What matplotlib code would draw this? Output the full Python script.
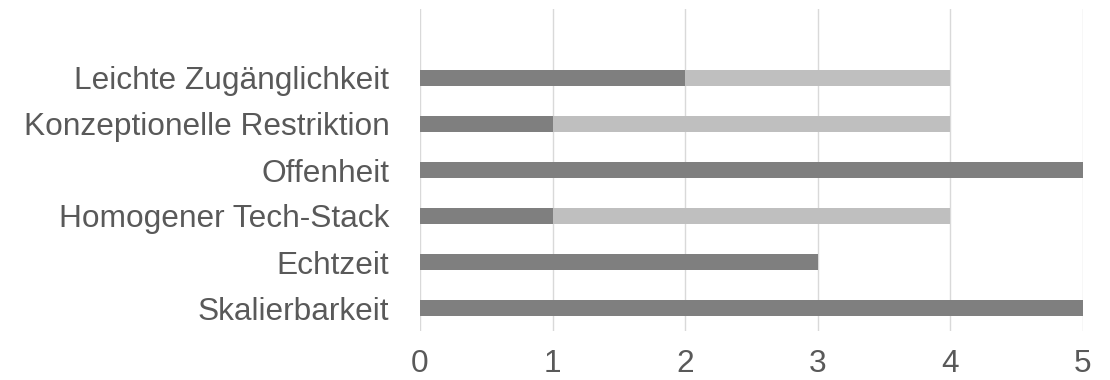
import matplotlib
matplotlib.use("Agg")
import matplotlib.pyplot as plt

# categories bottom -> top (an empty slot sits above the last one)
categories = ["Skalierbarkeit", "Echtzeit", "Homogener Tech-Stack",
              "Offenheit", "Konzeptionelle Restriktion", "Leichte Zugänglichkeit"]
series_a = [5, 3, 1, 5, 1, 2]
series_b = [0, 0, 3, 0, 3, 2]
xticks = [0, 1, 2, 3, 4, 5]

plt.rcParams['font.family'] = ['Liberation Sans', 'DejaVu Sans']

fig = plt.figure(figsize=(11.1, 3.8), dpi=100)
ax = fig.add_axes([420 / 1110, 1 - 331 / 380, 663 / 1110, 322 / 380])

pos = list(range(len(categories)))
h = 16 / 46
ax.barh(pos, series_a, height=h, color='#7f7f7f', zorder=3)
ax.barh(pos, series_b, left=series_a, height=h, color='#bfbfbf', zorder=3)

ax.set_xlim(0, 5)
ax.set_ylim(-0.5, len(categories) + 0.5)
ax.set_xticks(xticks)
ax.set_yticks(pos)
ax.set_yticklabels(categories)
ax.tick_params(axis='both', length=0, labelsize=22.8, labelcolor='#595959')
ax.tick_params(axis='y', pad=22)
ax.tick_params(axis='x', pad=13)
ax.grid(axis='x', color='#d9d9d9', linewidth=1.0, zorder=0)
for s in ax.spines.values():
    s.set_visible(False)

fig.savefig('out.png', dpi=100)
